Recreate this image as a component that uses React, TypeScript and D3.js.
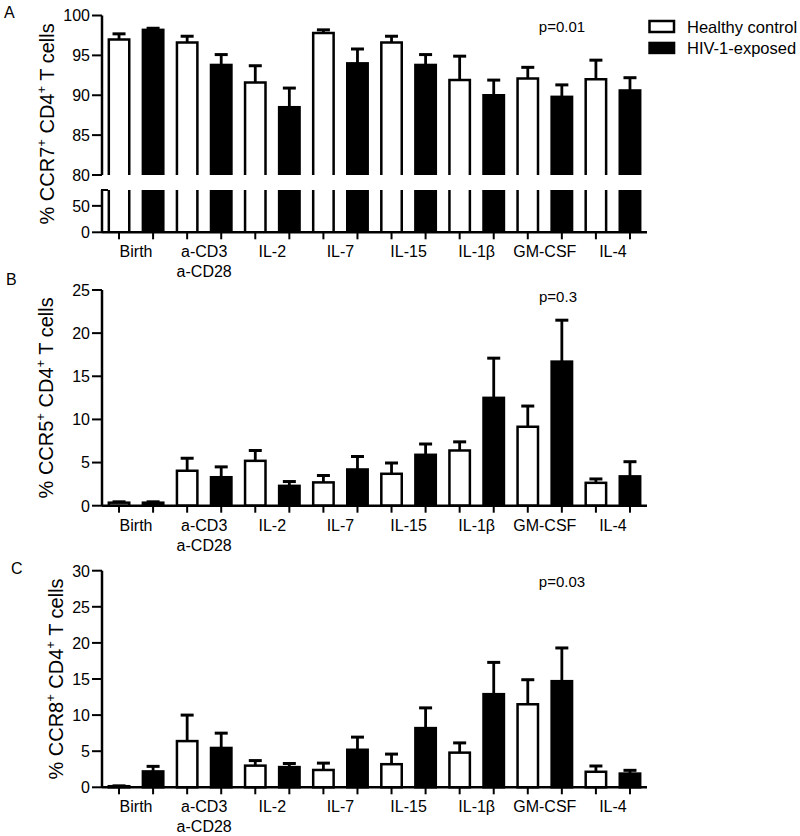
import React from 'react';
import * as d3 from 'd3';

const categories = ['Birth', 'a-CD3|a-CD28', 'IL-2', 'IL-7', 'IL-15', 'IL-1β', 'GM-CSF', 'IL-4'];
const seriesNames = ['Healthy control', 'HIV-1-exposed'];

// Panel A: % CCR7+ CD4+ T cells (mean, SEM)
const ccr7Healthy = [97.0, 96.6, 91.6, 97.8, 96.6, 91.9, 92.1, 92.0];
const ccr7HealthyErr = [0.7, 0.8, 2.1, 0.4, 0.8, 3.0, 1.4, 2.4];
const ccr7Hiv = [98.2, 93.8, 88.5, 94.0, 93.8, 90.0, 89.8, 90.6];
const ccr7HivErr = [0.2, 1.3, 2.4, 1.8, 1.3, 1.9, 1.5, 1.6];

// Panel B: % CCR5+ CD4+ T cells
const ccr5Healthy = [0.35, 4.05, 5.2, 2.7, 3.7, 6.4, 9.15, 2.65];
const ccr5HealthyErr = [0.1, 1.45, 1.2, 0.8, 1.25, 1.0, 2.4, 0.45];
const ccr5Hiv = [0.35, 3.3, 2.3, 4.2, 5.9, 12.5, 16.7, 3.4];
const ccr5HivErr = [0.1, 1.2, 0.5, 1.5, 1.25, 4.6, 4.8, 1.7];

// Panel C: % CCR8+ CD4+ T cells
const ccr8Healthy = [0.15, 6.4, 3.0, 2.4, 3.2, 4.8, 11.5, 2.15];
const ccr8HealthyErr = [0.05, 3.6, 0.7, 0.95, 1.4, 1.35, 3.4, 0.8];
const ccr8Hiv = [2.2, 5.45, 2.8, 5.2, 8.2, 12.9, 14.7, 1.9];
const ccr8HivErr = [0.7, 2.05, 0.5, 1.75, 2.8, 4.4, 4.6, 0.45];

const ccr7UpperTicks = [80, 85, 90, 95, 100];
const ccr7LowerTicks = [0, 50];
const ccr5Ticks = [0, 5, 10, 15, 20, 25];
const ccr8Ticks = [0, 5, 10, 15, 20, 25, 30];

const FONT = '"Liberation Sans", Arial, Helvetica, sans-serif';
const X0 = 102;
const X1 = 647;
const SW = 2.5;

const x0 = d3.scaleBand<string>().domain(categories).range([X0, X1]).padding(0);
const x1 = d3
  .scaleBand<string>()
  .domain(seriesNames)
  .range([0, x0.bandwidth()])
  .paddingInner(0.4)
  .paddingOuter(0.2);

type Series = { name: string; values: number[]; errs: number[] };

function CategoryAxis({ y }: { y: number }) {
  return (
    <g>
      <line x1={X0} x2={X1} y1={y} y2={y} stroke="#000" strokeWidth={SW} />
      {categories.map((c) =>
        seriesNames.map((s) => {
          const cx = (x0(c) as number) + (x1(s) as number) + x1.bandwidth() / 2;
          return <line key={c + s} x1={cx} x2={cx} y1={y} y2={y + 7} stroke="#000" strokeWidth={2} />;
        })
      )}
      {categories.map((c) => {
        const cx = (x0(c) as number) + x0.bandwidth() / 2;
        const lines = c.split('|');
        return (
          <text key={c} x={cx} y={y + 25} textAnchor="middle" fontSize={16} fontFamily={FONT}>
            {lines.map((l, i) => (
              <tspan key={i} x={cx} dy={i === 0 ? 0 : 20}>
                {l}
              </tspan>
            ))}
          </text>
        );
      })}
    </g>
  );
}

function YTicks({ scale, ticks, x }: { scale: d3.ScaleLinear<number, number>; ticks: number[]; x: number }) {
  return (
    <g>
      {ticks.map((t) => (
        <g key={t}>
          <line x1={x - 10} x2={x} y1={scale(t)} y2={scale(t)} stroke="#000" strokeWidth={2} />
          <text x={x - 12} y={scale(t) + 5.8} textAnchor="end" fontSize={16} fontFamily={FONT}>
            {t}
          </text>
        </g>
      ))}
    </g>
  );
}

function YTitle({ x, cy, marker }: { x: number; cy: number; marker: string }) {
  return (
    <text
      transform={`translate(${x},${cy}) rotate(-90)`}
      textAnchor="middle"
      fontSize={20}
      fontFamily={FONT}
    >
      <tspan>{`% ${marker}`}</tspan>
      <tspan dy={-8} fontSize={13}>+</tspan>
      <tspan dy={8}> CD4</tspan>
      <tspan dy={-8} fontSize={13}>+</tspan>
      <tspan dy={8}> T cells</tspan>
    </text>
  );
}

function ErrorBar({ cx, yTop, yErr }: { cx: number; yTop: number; yErr: number }) {
  return (
    <g>
      <line x1={cx} x2={cx} y1={yTop} y2={yErr} stroke="#000" strokeWidth={2.8} />
      <line x1={cx - 6.5} x2={cx + 6.5} y1={yErr} y2={yErr} stroke="#000" strokeWidth={3} />
    </g>
  );
}

function SimplePanel({
  scale,
  ticks,
  series,
  titleX,
  marker,
  pText,
  pX,
  pY,
}: {
  scale: d3.ScaleLinear<number, number>;
  ticks: number[];
  series: Series[];
  titleX: number;
  marker: string;
  pText: string;
  pX: number;
  pY: number;
}) {
  const [y0, y1] = scale.range();
  return (
    <g>
      {series.map((s, si) =>
        categories.map((c, i) => {
          const bx = (x0(c) as number) + (x1(s.name) as number);
          const w = x1.bandwidth();
          const v = s.values[i];
          const yv = scale(v);
          return (
            <g key={s.name + c}>
              <ErrorBar cx={bx + w / 2} yTop={yv} yErr={scale(v + s.errs[i])} />
              <rect
                x={bx}
                y={yv}
                width={w}
                height={Math.max(0, y0 - yv)}
                fill={si === 0 ? '#fff' : '#000'}
                stroke="#000"
                strokeWidth={SW}
              />
            </g>
          );
        })
      )}
      <line x1={X0} x2={X0} y1={y0} y2={y1} stroke="#000" strokeWidth={SW} />
      <YTicks scale={scale} ticks={ticks} x={X0} />
      <CategoryAxis y={y0} />
      <YTitle x={titleX} cy={(y0 + y1) / 2} marker={marker} />
      <text x={pX} y={pY} textAnchor="middle" fontSize={15} fontFamily={FONT}>
        {pText}
      </text>
    </g>
  );
}

function BrokenPanel({ series }: { series: Series[] }) {
  const upper = d3.scaleLinear().domain([80, 100]).range([175, 15.5]);
  const lower = d3.scaleLinear().domain([0, 80]).range([232.3, 190]);
  const [uBot, uTop] = upper.range();
  const [lBot, lTop] = lower.range();
  return (
    <g>
      {series.map((s, si) =>
        categories.map((c, i) => {
          const bx = (x0(c) as number) + (x1(s.name) as number);
          const w = x1.bandwidth();
          const v = s.values[i];
          const yv = upper(v);
          const white = si === 0;
          return (
            <g key={s.name + c}>
              <ErrorBar cx={bx + w / 2} yTop={yv} yErr={upper(v + s.errs[i])} />
              {white ? (
                <>
                  <path
                    d={`M${bx},${uBot}V${yv}H${bx + w}V${uBot}`}
                    fill="#fff"
                    stroke="#000"
                    strokeWidth={SW}
                  />
                  <path d={`M${bx},${lTop}V${lBot}M${bx + w},${lTop}V${lBot}`} fill="none" stroke="#000" strokeWidth={SW} />
                </>
              ) : (
                <>
                  <rect x={bx - SW / 2} y={yv - SW / 2} width={w + SW} height={uBot - yv + SW / 2} fill="#000" />
                  <rect x={bx - SW / 2} y={lTop} width={w + SW} height={lBot - lTop} fill="#000" />
                </>
              )}
            </g>
          );
        })
      )}
      <line x1={X0} x2={X0} y1={uBot} y2={uTop} stroke="#000" strokeWidth={SW} />
      <line x1={X0} x2={X0} y1={lBot} y2={lTop} stroke="#000" strokeWidth={SW} />
      <line x1={X0 - 1} x2={X0 + 6} y1={lTop} y2={lTop} stroke="#000" strokeWidth={2} />
      <YTicks scale={upper} ticks={ccr7UpperTicks} x={X0} />
      <YTicks scale={lower} ticks={ccr7LowerTicks} x={X0} />
      <CategoryAxis y={lBot} />
      <YTitle x={53.5} cy={(uTop + lBot) / 2} marker="CCR7" />
      <text x={562} y={32} textAnchor="middle" fontSize={15} fontFamily={FONT}>
        p=0.01
      </text>
    </g>
  );
}

export default function App() {
  const scaleB = d3.scaleLinear().domain([0, 25]).range([505.7, 290]);
  const scaleC = d3.scaleLinear().domain([0, 30]).range([787.3, 570.7]);
  return (
    <svg
      width={800}
      height={836}
      viewBox="0 0 800 836"
      style={{ position: 'absolute', left: 0, top: 0, background: '#fff' }}
      fontFamily={FONT}
    >
      <rect x={0} y={0} width={800} height={836} fill="#fff" />
      <text x={4} y={18} fontSize={16} fontFamily={FONT}>A</text>
      <text x={6} y={285} fontSize={16} fontFamily={FONT}>B</text>
      <text x={11} y={574} fontSize={16} fontFamily={FONT}>C</text>

      <BrokenPanel
        series={[
          { name: seriesNames[0], values: ccr7Healthy, errs: ccr7HealthyErr },
          { name: seriesNames[1], values: ccr7Hiv, errs: ccr7HivErr },
        ]}
      />
      <SimplePanel
        scale={scaleB}
        ticks={ccr5Ticks}
        series={[
          { name: seriesNames[0], values: ccr5Healthy, errs: ccr5HealthyErr },
          { name: seriesNames[1], values: ccr5Hiv, errs: ccr5HivErr },
        ]}
        titleX={53}
        marker="CCR5"
        pText="p=0.3"
        pX={558}
        pY={302}
      />
      <SimplePanel
        scale={scaleC}
        ticks={ccr8Ticks}
        series={[
          { name: seriesNames[0], values: ccr8Healthy, errs: ccr8HealthyErr },
          { name: seriesNames[1], values: ccr8Hiv, errs: ccr8HivErr },
        ]}
        titleX={63}
        marker="CCR8"
        pText="p=0.03"
        pX={562}
        pY={587}
      />

      {/* Legend */}
      <rect x={649.5} y={21} width={24.5} height={11} fill="#fff" stroke="#000" strokeWidth={SW} />
      <rect x={648.3} y={41.7} width={27} height={12.5} fill="#000" />
      <text x={687} y={32.5} fontSize={16.5} fontFamily={FONT}>{seriesNames[0]}</text>
      <text x={687} y={54} fontSize={16.5} fontFamily={FONT}>{seriesNames[1]}</text>
    </svg>
  );
}
